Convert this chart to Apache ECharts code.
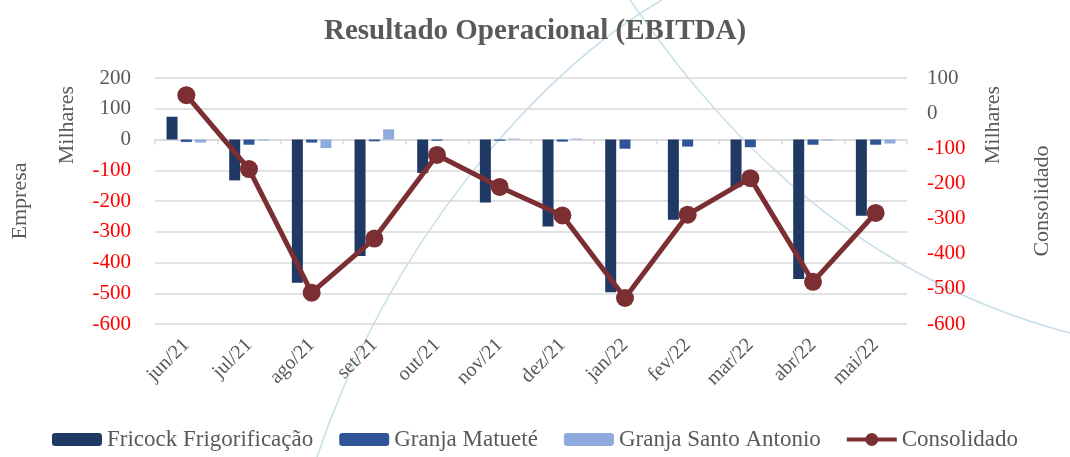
<!DOCTYPE html>
<html>
<head>
<meta charset="utf-8">
<script src="https://cdn.jsdelivr.net/npm/echarts@6/dist/echarts.min.js"></script>
<style>
  html, body { margin: 0; padding: 0; background: #fff; }
  #main { width: 1070px; height: 457px; }
</style>
</head>
<body>
<div id="main"></div>
<script>
// meses
var months = ['jun/21', 'jul/21', 'ago/21', 'set/21', 'out/21', 'nov/21', 'dez/21', 'jan/22', 'fev/22', 'mar/22', 'abr/22', 'mai/22'];
// empresas (milhares), eixo esquerdo
var fricock = [74, -133, -466, -379, -109, -205, -283, -497, -261, -155, -454, -248];
var matuete = [-8, -17, -10, -6, -4, -4, -7, -30, -23, -25, -17, -17];
var santoAntonio = [-10, -3, -28, 33, 0, 3, 3, 0, 0, 0, -3, -13];
// consolidado (milhares), eixo direito
var consolidado = [51, -159, -511, -357, -119, -210, -291, -526, -289, -185, -480, -284];

var FONT = '"Liberation Serif", "DejaVu Serif", serif';
var GRAY = '#595959';

//rotulos negativos em vermelho
function fmtNum(v) {
    return v < 0 ? '{n|' + v + '}' : '{p|' + v + '}';
}
var numRich = {
    n: {color: '#ff0000', fontFamily: FONT, fontSize: 21},
    p: {color: GRAY, fontFamily: FONT, fontSize: 21}
};

var chart = echarts.init(document.getElementById('main'));
chart.setOption({
    animation: false,
    title: {
        text: 'Resultado Operacional (EBITDA)',
        left: 'center',
        top: 12,
        textStyle: {fontFamily: FONT, fontSize: 29, fontWeight: 'bold', color: GRAY}
    },
    legend: {
        bottom: 1,
        left: 'center',
        itemWidth: 50,
        itemHeight: 13,
        itemGap: 26,
        textStyle: {fontFamily: FONT, fontSize: 23, color: GRAY},
        data: [
            'Fricock Frigorificação',
            'Granja Matueté',
            'Granja Santo Antonio',
            // linha grossa com bolinha
            {name: 'Consolidado', icon: 'path://M0,4.5H50V8.5H0Z M18.5,6.5a6.5,6.5 0 1,1 13,0a6.5,6.5 0 1,1 -13,0Z'}
        ]
    },
    grid: {left: 155, right: 163, top: 78, bottom: 133},
    xAxis: [
        {   // linha no zero com marcas
            type: 'category',
            data: months,
            position: 'bottom',
            axisLine: {onZero: true, lineStyle: {color: '#d9d9d9', width: 1.5}},
            axisTick: {show: true, length: 5, lineStyle: {color: '#d9d9d9', width: 1.5}},
            axisLabel: {show: false},
            splitLine: {show: false}
        },
        {   // rotulos embaixo
            type: 'category',
            data: months,
            position: 'bottom',
            axisLine: {show: false, onZero: false},
            axisTick: {show: false},
            axisLabel: {rotate: 45, margin: 18, fontFamily: FONT, fontSize: 20, color: GRAY, interval: 0},
            splitLine: {show: false}
        }
    ],
    yAxis: [
        {
            type: 'value',
            min: -600,
            max: 200,
            interval: 100,
            name: 'Empresa',
            nameLocation: 'middle',
            nameGap: 124,
            nameTextStyle: {fontFamily: FONT, fontSize: 22, color: GRAY},
            axisLine: {show: false},
            axisTick: {show: false},
            axisLabel: {margin: 24, formatter: fmtNum, rich: numRich},
            splitLine: {lineStyle: {color: '#d9d9d9', width: 1.5}}
        },
        {
            type: 'value',
            min: -600,
            max: 100,
            interval: 100,
            name: 'Consolidado',
            nameLocation: 'middle',
            nameGap: 124,
            nameTextStyle: {fontFamily: FONT, fontSize: 22, color: GRAY},
            axisLine: {show: false},
            axisTick: {show: false},
            axisLabel: {margin: 20, formatter: fmtNum, rich: numRich},
            splitLine: {show: false}
        }
    ],
    graphic: [
        {type: 'text', left: 56, top: 86, silent: true, rotation: Math.PI / 2,
            style: {text: 'Milhares', fontFamily: FONT, fontSize: 22, fill: GRAY}},
        {type: 'text', left: 982, top: 86, silent: true, rotation: Math.PI / 2,
            style: {text: 'Milhares', fontFamily: FONT, fontSize: 22, fill: GRAY}},
        //linhas decorativas do fundo
        {type: 'bezierCurve', silent: true, z: -1,
            shape: {x1: 317, y1: 457, cpx1: 390, cpy1: 240, cpx2: 540, cpy2: 70, x2: 662, y2: 0},
            style: {stroke: '#c6dfe9', lineWidth: 1.5, fill: null}},
        {type: 'bezierCurve', silent: true, z: -1,
            shape: {x1: 630, y1: 0, cpx1: 700, cpy1: 100, cpx2: 830, cpy2: 270, x2: 1070, y2: 333},
            style: {stroke: '#c6dfe9', lineWidth: 1.5, fill: null}}
    ],
    series: [
        {
            name: 'Fricock Frigorificação',
            type: 'bar',
            xAxisIndex: 0, yAxisIndex: 0,
            barWidth: 11,
            barGap: '30%',
            itemStyle: {color: '#1f3864'},
            data: fricock
        },
        {
            name: 'Granja Matueté',
            type: 'bar',
            xAxisIndex: 0, yAxisIndex: 0,
            barWidth: 11,
            barGap: '30%',
            itemStyle: {color: '#2f5597'},
            data: matuete
        },
        {
            name: 'Granja Santo Antonio',
            type: 'bar',
            xAxisIndex: 0, yAxisIndex: 0,
            barWidth: 11,
            barGap: '30%',
            itemStyle: {color: '#8faadc'},
            data: santoAntonio
        },
        {
            name: 'Consolidado',
            type: 'line',
            xAxisIndex: 0, yAxisIndex: 1,
            symbol: 'circle',
            symbolSize: 18,
            lineStyle: {color: '#7b2f32', width: 5},
            itemStyle: {color: '#7b2f32'},
            z: 5,
            data: consolidado
        }
    ]
});
</script>
</body>
</html>
